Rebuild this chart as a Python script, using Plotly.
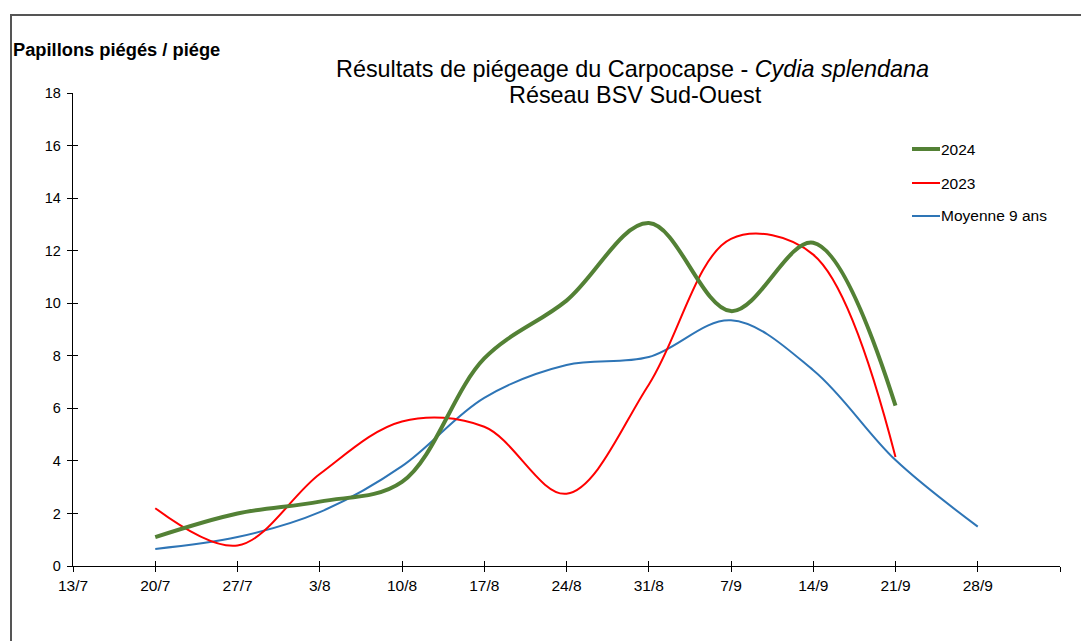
import plotly.graph_objects as go

dates = ["2024-07-20", "2024-07-27", "2024-08-03", "2024-08-10", "2024-08-17",
         "2024-08-24", "2024-08-31", "2024-09-07", "2024-09-14", "2024-09-21",
         "2024-09-28"]
y2024 = [1.1, 2.0, 2.45, 3.2, 7.9, 10.1, 13.05, 9.7, 12.3, 6.1]
y2023 = [2.2, 0.78, 3.5, 5.5, 5.3, 2.75, 6.9, 12.45, 11.85, 4.15]
ymoy = [0.65, 1.1, 2.05, 3.8, 6.4, 7.65, 7.95, 9.35, 7.45, 4.03, 1.5]

tick_dates = ["2024-07-13", "2024-07-20", "2024-07-27", "2024-08-03", "2024-08-10",
              "2024-08-17", "2024-08-24", "2024-08-31", "2024-09-07", "2024-09-14",
              "2024-09-21", "2024-09-28", "2024-10-05"]
tick_text = ["13/7", "20/7", "27/7", "3/8", "10/8", "17/8", "24/8", "31/8",
             "7/9", "14/9", "21/9", "28/9", ""]
y_ticks = list(range(0, 19, 2))

series = [
    ("Moyenne 9 ans", dates, ymoy, "#2E75B6", 2),
    ("2023", dates[:len(y2023)], y2023, "#FF0000", 2),
    ("2024", dates[:len(y2024)], y2024, "#538135", 4),
]

OFF = 8  # page body margin
W, H = 1081, 633
L = 73 - OFF
T = 93 - OFF
R = W - (1060 - OFF)
B = H - (566 - OFF)
pw, ph = W - L - R, H - T - B

def px(x):
    return (x - OFF - L) / pw

def py(y):
    return (H - B - (y - OFF)) / ph

fig = go.Figure()
for name, xs, ys, col, w in series:
    fig.add_trace(go.Scatter(x=xs, y=ys, mode="lines", name=name,
                             line=dict(color=col, width=w, shape="spline", smoothing=1),
                             showlegend=False))

font_family = "Liberation Sans, Arial, sans-serif"
axis_common = dict(showgrid=False, zeroline=False, showline=True, linecolor="black",
                   linewidth=1.3, tickcolor="black", tickwidth=1.3)

fig.update_layout(
    width=W, height=H,
    margin=dict(l=L, r=R, t=T, b=B),
    paper_bgcolor="white", plot_bgcolor="white",
    font=dict(family=font_family, size=14, color="black"),
    xaxis=dict(type="date", range=[tick_dates[0], tick_dates[-1]],
               tickmode="array", tickvals=tick_dates, ticktext=tick_text,
               tickfont=dict(size=15.5), ticks="outside", ticklen=5, **axis_common),
    xaxis2=dict(type="date", range=[tick_dates[0], tick_dates[-1]], overlaying="x",
                tickmode="array", tickvals=tick_dates, ticktext=[""] * len(tick_dates),
                ticks="inside", ticklen=5, showticklabels=False, matches="x",
                **axis_common),
    yaxis=dict(range=[0, 18], tickmode="array", tickvals=y_ticks,
               tickfont=dict(size=14.5), ticks="outside", ticklen=5,
               ticklabelstandoff=3, **axis_common),
    yaxis2=dict(range=[0, 18], overlaying="y", tickmode="array", tickvals=y_ticks,
                ticks="inside", ticklen=5, showticklabels=False, **axis_common),
    showlegend=False,
)
fig.add_trace(go.Scatter(x=[tick_dates[0]], y=[None], xaxis="x2", yaxis="y2",
                         mode="lines", showlegend=False, hoverinfo="skip"))

annotations = [
    dict(x=px(11), y=py(49), xref="paper", yref="paper", xanchor="left", yanchor="middle",
         text="<b>Papillons piégés / piége</b>", showarrow=False,
         font=dict(size=18.3, family=font_family)),
    dict(x=px(632), y=py(69), xref="paper", yref="paper", xanchor="center", yanchor="middle",
         text="Résultats de piégeage du Carpocapse - <i>Cydia splendana</i>", showarrow=False,
         font=dict(size=23.4, family=font_family)),
    dict(x=px(635), y=py(95), xref="paper", yref="paper", xanchor="center", yanchor="middle",
         text="Réseau BSV Sud-Ouest", showarrow=False,
         font=dict(size=23.4, family=font_family)),
]
shapes = [
    dict(type="line", xref="paper", yref="paper", x0=px(11), x1=px(11),
         y0=py(15), y1=py(700), line=dict(color="#555555", width=2)),
    dict(type="line", xref="paper", yref="paper", x0=px(10), x1=px(1200),
         y0=py(15), y1=py(15), line=dict(color="#555555", width=2)),
]
legend_items = [("2024", "#538135", 4, 149), ("2023", "#FF0000", 2, 183),
                ("Moyenne 9 ans", "#2E75B6", 2, 216)]
for name, col, w, yy in legend_items:
    shapes.append(dict(type="line", xref="paper", yref="paper", x0=px(912), x1=px(940),
                       y0=py(yy), y1=py(yy), line=dict(color=col, width=w)))
    annotations.append(dict(x=px(939), y=py(yy), xref="paper", yref="paper",
                            xanchor="left", yanchor="middle", text=name, showarrow=False,
                            font=dict(size=15.5, family=font_family)))
fig.update_layout(annotations=annotations, shapes=shapes)

fig.write_html("out.html")
